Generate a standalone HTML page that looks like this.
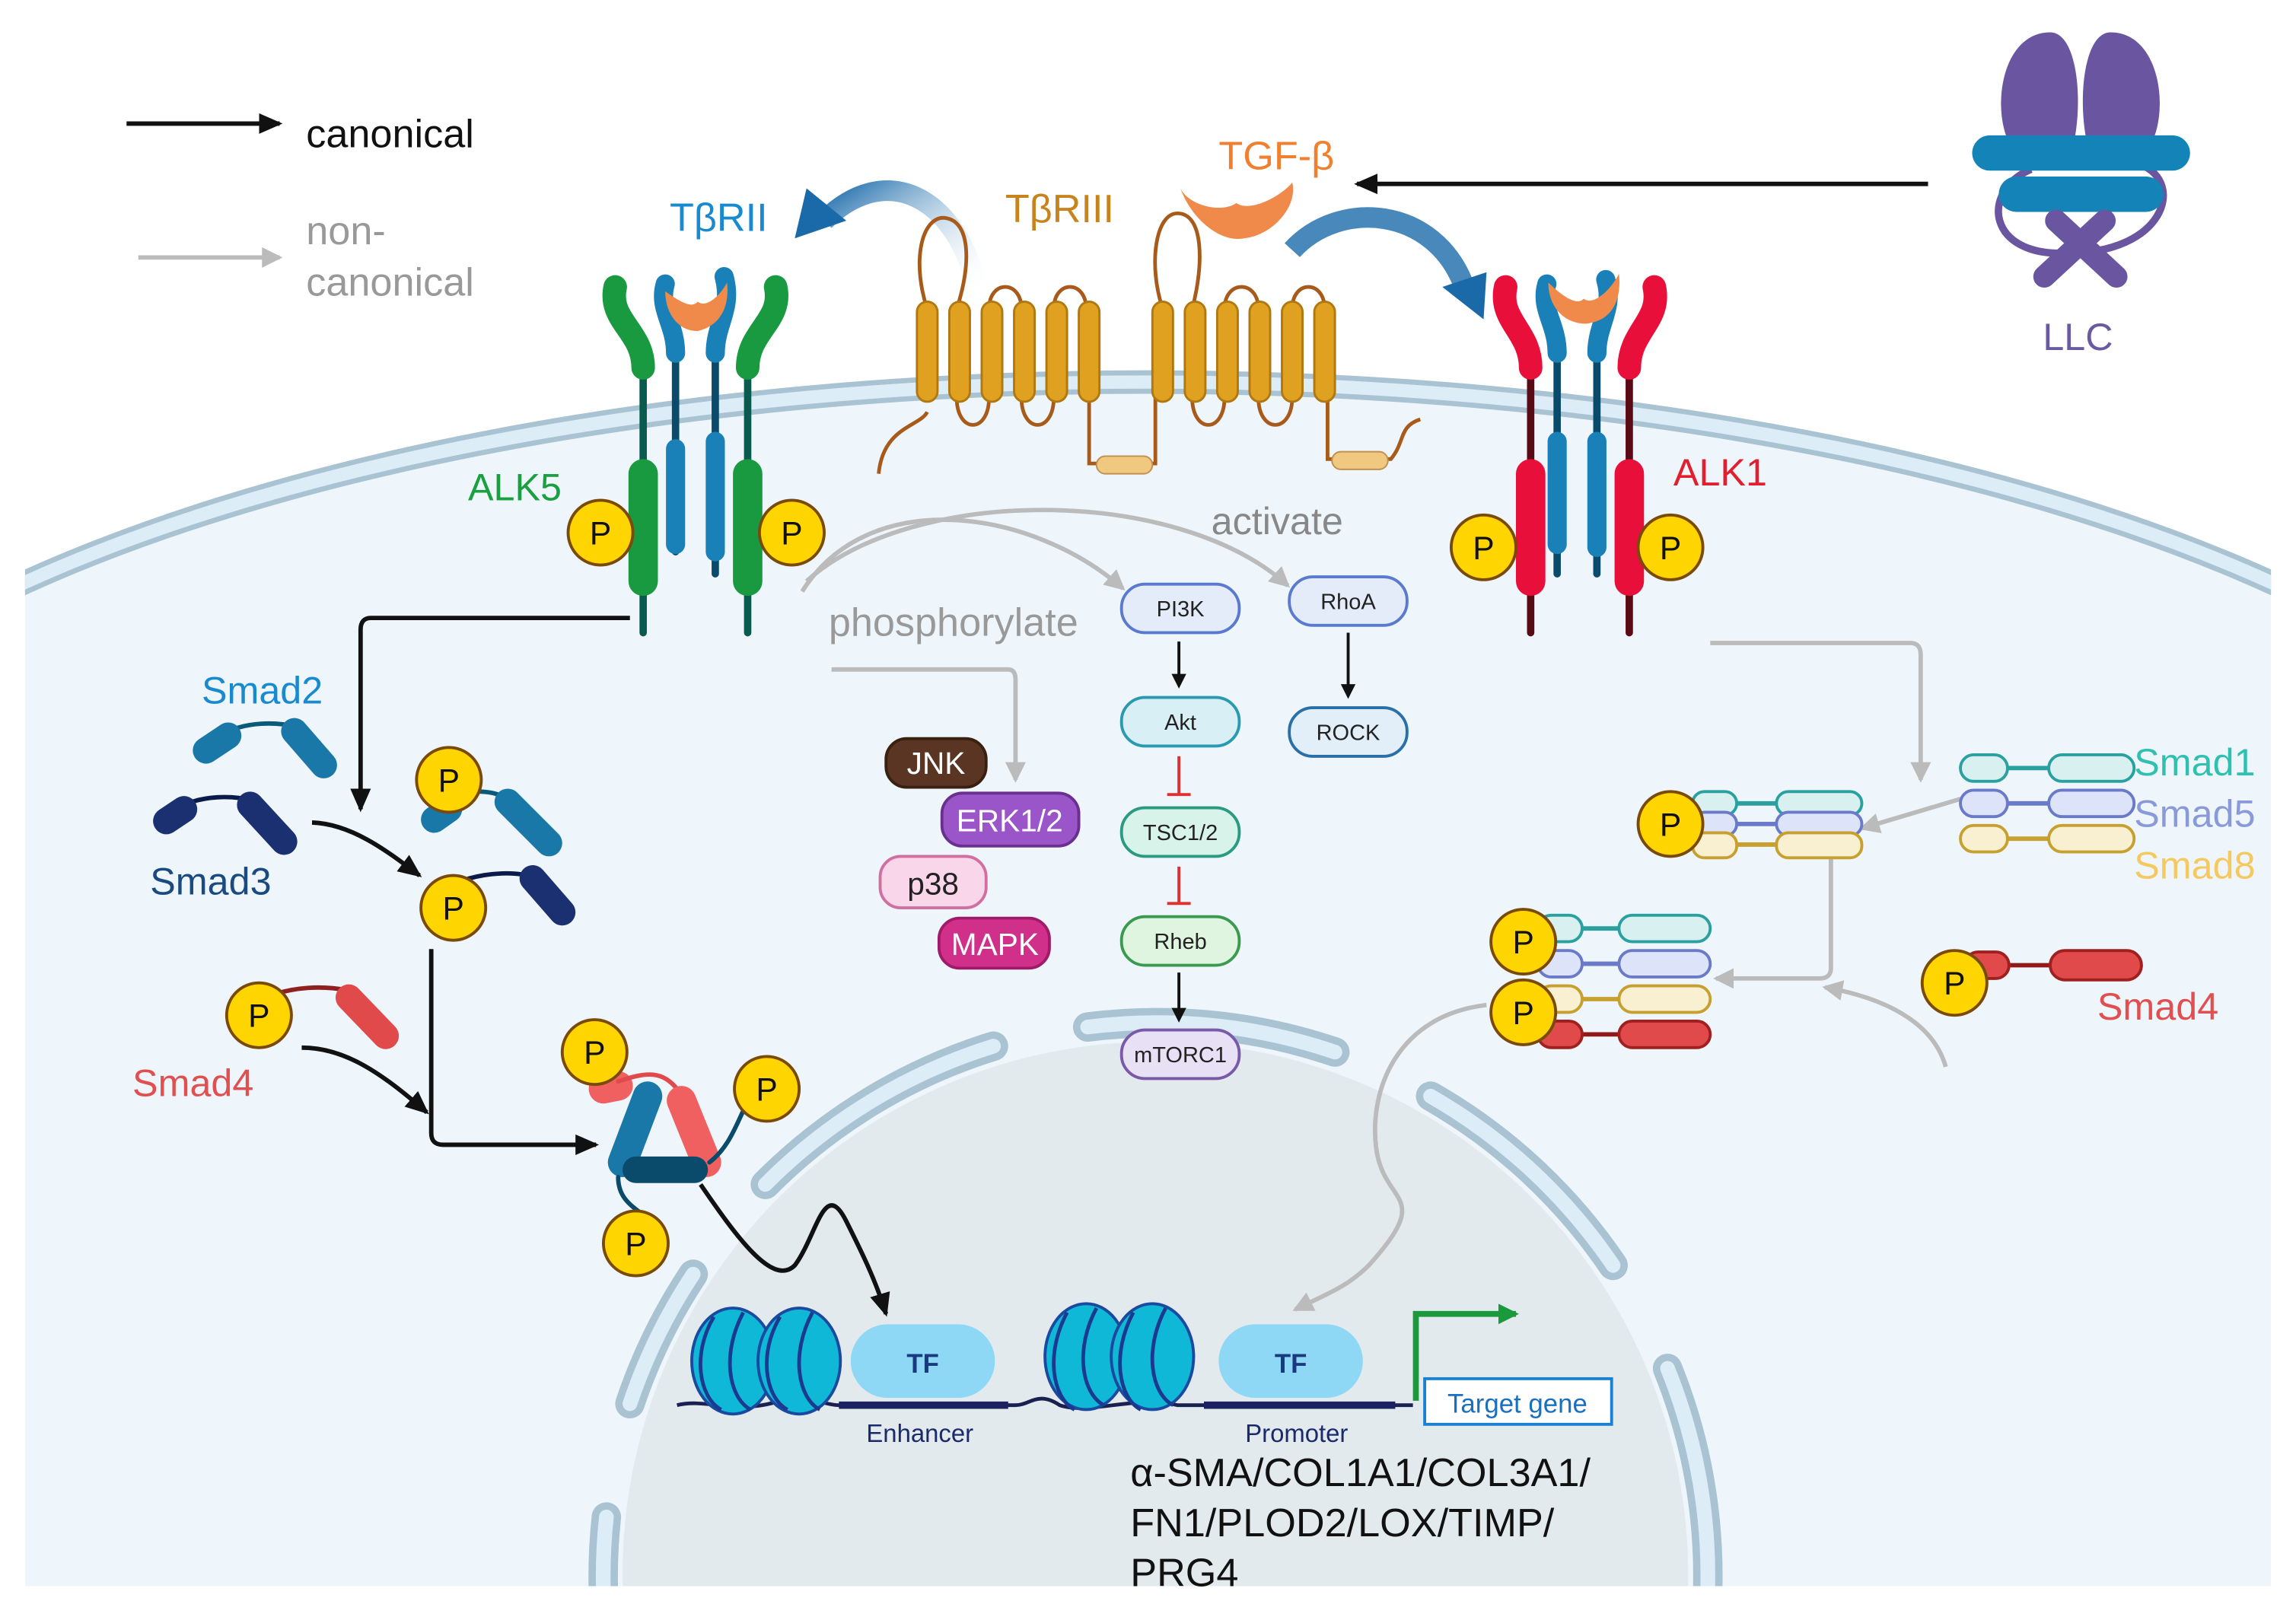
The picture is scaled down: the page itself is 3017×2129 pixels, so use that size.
<!DOCTYPE html>
<html><head><meta charset="utf-8"><style>
html,body{margin:0;padding:0;background:#fff;width:3017px;height:2129px;overflow:hidden}
svg{display:block}
text{font-family:"Liberation Sans",sans-serif}
</style></head><body>
<svg width="3017" height="2129" viewBox="0 0 1560 1101" preserveAspectRatio="none" xmlns="http://www.w3.org/2000/svg">
<defs>
<marker id="ab" markerWidth="10" markerHeight="10" refX="8" refY="5" orient="auto" markerUnits="userSpaceOnUse"><path d="M0,0 L10,5 L0,10 z" fill="#111"/></marker>
<marker id="ab2" markerWidth="16" markerHeight="14" refX="14" refY="7" orient="auto" markerUnits="userSpaceOnUse"><path d="M0,0 L16,7 L0,14 z" fill="#111"/></marker>
<marker id="ag" markerWidth="14" markerHeight="14" refX="12" refY="7" orient="auto" markerUnits="userSpaceOnUse"><path d="M0,0 L14,7 L0,14 z" fill="#bbb"/></marker>
<marker id="agg" markerWidth="14" markerHeight="14" refX="12" refY="7" orient="auto" markerUnits="userSpaceOnUse"><path d="M0,0 L14,7 L0,14 z" fill="#1a9a3a"/></marker>
<clipPath id="cell"><rect x="17" y="0" width="1526" height="1078"/></clipPath>
<linearGradient id="bg1" x1="1" y1="1" x2="0" y2="0"><stop offset="0" stop-color="#fff" stop-opacity="0"/><stop offset="1" stop-color="#1a6aaa"/></linearGradient>
</defs>
<rect width="1560" height="1101" fill="#fff"/>
<g clip-path="url(#cell)">
<path d="M10,399 A1000,385 0 0 1 1550,399 L1550,1078 L10,1078 z" fill="#eef6fb"/>
<path d="M10,399 A1000,385 0 0 1 1550,399" fill="none" stroke="#a9c3d3" stroke-width="16"/>
<path d="M10,399 A1000,385 0 0 1 1550,399" fill="none" stroke="#dcedf8" stroke-width="9"/>
<circle cx="785" cy="1070" r="362" fill="#e3eaee"/>
<g fill="none" stroke-linecap="round">
<g stroke="#a9c3d3" stroke-width="20">
<path d="M410,1083 A375,375 0 0 1 412,1031"/>
<path d="M428,954 A375,375 0 0 1 471,866"/>
<path d="M520,805 A375,375 0 0 1 675,711"/>
<path d="M739,698 A375,375 0 0 1 907,715"/>
<path d="M972,745 A375,375 0 0 1 1096,860"/>
<path d="M1133,930 A375,375 0 0 1 1159,1103"/>
</g>
<g stroke="#dcedf8" stroke-width="10">
<path d="M410,1083 A375,375 0 0 1 412,1031"/>
<path d="M428,954 A375,375 0 0 1 471,866"/>
<path d="M520,805 A375,375 0 0 1 675,711"/>
<path d="M739,698 A375,375 0 0 1 907,715"/>
<path d="M972,745 A375,375 0 0 1 1096,860"/>
<path d="M1133,930 A375,375 0 0 1 1159,1103"/>
</g>
</g>
</g>

<!-- legend -->
<line x1="86" y1="84" x2="190" y2="84" stroke="#111" stroke-width="3" marker-end="url(#ab2)"/>
<text x="208" y="100" font-size="27" fill="#111">canonical</text>
<line x1="94" y1="175" x2="190" y2="175" stroke="#bbb" stroke-width="3" marker-end="url(#ag)"/>
<text x="208" y="166" font-size="27" fill="#999">non-</text>
<text x="208" y="201" font-size="27" fill="#999">canonical</text>

<!-- LLC -->
<g>
<path d="M1393,22 C1358,22 1352,80 1368,102 C1383,120 1405,112 1410,92 C1415,62 1410,22 1393,22z" fill="#6a55a0"/>
<path d="M1434,22 C1469,22 1475,80 1459,102 C1444,120 1422,112 1417,92 C1412,62 1417,22 1434,22z" fill="#6a55a0"/>
<path d="M1380,115 C1345,130 1350,175 1405,172 C1470,172 1485,125 1455,112" fill="none" stroke="#6a55a0" stroke-width="5"/>
<rect x="1340" y="92" width="148" height="24" rx="12" fill="#1484b8"/>
<rect x="1358" y="120" width="112" height="24" rx="12" fill="#1484b8"/>
<path d="M1397,150 L1438,188 M1430,150 L1389,188" stroke="#6a55a0" stroke-width="15" stroke-linecap="round"/>
<text x="1388" y="238" font-size="26" fill="#6a5aa0">LLC</text>
</g>
<line x1="1310" y1="125" x2="922" y2="125" stroke="#111" stroke-width="3" marker-end="url(#ab2)"/>
<text x="828" y="115" font-size="27" fill="#f08030">TGF-β</text>
<path d="M802,128 C808,140 830,145 840,138 C850,145 872,132 878,124 C882,140 865,160 845,162 C830,165 810,150 802,128z" fill="#f08a4a"/>
<text x="683" y="151" font-size="27" fill="#c8841c">TβRIII</text>
<text x="455" y="157" font-size="27" fill="#1a8ad0">TβRII</text>

<!-- blue curved arrows -->
<path d="M665,200 C650,130 600,110 560,150" fill="none" stroke="url(#bg1)" stroke-width="14"/>
<path d="M540,162 L548,128 L575,150 z" fill="#1a6aaa"/>
<path d="M878,170 C910,135 975,140 995,195" fill="none" stroke="#1a6aaa" stroke-width="14" stroke-opacity="0.8"/>
<path d="M1008,217 L980,195 L1010,185 z" fill="#1a6aaa"/>

<!-- TβRIII -->
<g fill="none" stroke="#a85a1a" stroke-width="2.5">
<path d="M597,322 C600,290 625,290 630,280"/>
<path d="M630,210 C620,180 625,150 640,148 C660,148 660,180 650,210"/>
<path d="M650,270 C650,295 672,295 672,270 M672,210 C672,190 694,190 694,210 M694,270 C694,295 716,295 716,270 M716,210 C716,190 738,190 738,210"/>
<path d="M740,270 L740,315 L785,315 L785,270"/>
<path d="M790,210 C780,180 785,145 800,145 C818,145 818,180 810,210"/>
<path d="M810,270 C810,295 832,295 832,270 M832,210 C832,190 855,190 855,210 M855,270 C855,295 878,295 878,270 M878,210 C878,190 900,190 900,210"/>
<path d="M902,270 L902,312 L945,312 C955,300 950,290 965,285"/>
</g>
<g fill="#e0a020" stroke="#b07810" stroke-width="1.5">
<rect x="623" y="205" width="14" height="68" rx="7"/><rect x="645" y="205" width="14" height="68" rx="7"/><rect x="667" y="205" width="14" height="68" rx="7"/><rect x="689" y="205" width="14" height="68" rx="7"/><rect x="711" y="205" width="14" height="68" rx="7"/><rect x="733" y="205" width="14" height="68" rx="7"/>
<rect x="783" y="205" width="14" height="68" rx="7"/><rect x="805" y="205" width="14" height="68" rx="7"/><rect x="827" y="205" width="14" height="68" rx="7"/><rect x="849" y="205" width="14" height="68" rx="7"/><rect x="871" y="205" width="14" height="68" rx="7"/><rect x="893" y="205" width="14" height="68" rx="7"/>
</g>
<rect x="745" y="310" width="38" height="12" rx="6" fill="#f0c880" stroke="#c09050"/>
<rect x="905" y="307" width="38" height="12" rx="6" fill="#f0c880" stroke="#c09050"/>

<!-- ALK5 receptor -->
<g stroke-linecap="round" fill="none">
<path d="M437,430 L437,245" stroke="#0a5a50" stroke-width="5"/>
<path d="M437,250 C437,225 413,218 418,195" stroke="#1a9a40" stroke-width="16"/>
<path d="M508,430 L508,245" stroke="#0a5a50" stroke-width="5"/>
<path d="M508,250 C508,225 532,218 527,195" stroke="#1a9a40" stroke-width="16"/>
<path d="M459,375 L459,235" stroke="#0a4a6a" stroke-width="5"/>
<path d="M459,240 C459,220 447,210 452,193" stroke="#1a80b8" stroke-width="13"/>
<path d="M486,390 L486,235" stroke="#0a4a6a" stroke-width="5"/>
<path d="M486,240 C486,220 498,210 492,188" stroke="#1a80b8" stroke-width="13"/>
<line x1="459" y1="305" x2="459" y2="370" stroke="#1a80b8" stroke-width="13"/>
<line x1="486" y1="300" x2="486" y2="375" stroke="#1a80b8" stroke-width="13"/>
<line x1="437" y1="322" x2="437" y2="395" stroke="#1a9a40" stroke-width="20"/>
<line x1="508" y1="322" x2="508" y2="395" stroke="#1a9a40" stroke-width="20"/>
</g>
<path d="M452,198 C462,205 470,210 474,205 C480,210 490,200 494,192 C496,210 488,222 474,225 C460,225 452,212 452,198z" fill="#f08a4a"/>
<text x="318" y="340" font-size="26" fill="#1aa040">ALK5</text>

<!-- ALK1 receptor -->
<g stroke-linecap="round" fill="none">
<path d="M1040,430 L1040,245" stroke="#5a0a14" stroke-width="5"/>
<path d="M1040,250 C1040,225 1018,218 1023,195" stroke="#e8103a" stroke-width="16"/>
<path d="M1107,430 L1107,245" stroke="#5a0a14" stroke-width="5"/>
<path d="M1107,250 C1107,225 1129,218 1124,195" stroke="#e8103a" stroke-width="16"/>
<path d="M1058,390 L1058,235" stroke="#0a4a6a" stroke-width="5"/>
<path d="M1058,240 C1058,220 1046,210 1051,193" stroke="#1a80b8" stroke-width="13"/>
<path d="M1085,390 L1085,235" stroke="#0a4a6a" stroke-width="5"/>
<path d="M1085,240 C1085,220 1097,210 1091,190" stroke="#1a80b8" stroke-width="13"/>
<line x1="1058" y1="300" x2="1058" y2="370" stroke="#1a80b8" stroke-width="13"/>
<line x1="1085" y1="300" x2="1085" y2="372" stroke="#1a80b8" stroke-width="13"/>
<line x1="1040" y1="322" x2="1040" y2="395" stroke="#e8103a" stroke-width="20"/>
<line x1="1107" y1="322" x2="1107" y2="395" stroke="#e8103a" stroke-width="20"/>
</g>
<path d="M1052,192 C1062,202 1072,208 1076,203 C1082,208 1094,198 1100,186 C1102,206 1094,218 1078,220 C1062,220 1052,208 1052,192z" fill="#f08a4a"/>
<text x="1137" y="330" font-size="26" fill="#e02030">ALK1</text>

<!-- P circles -->
<g fill="#ffd500" stroke="#7a4a08" stroke-width="2">
<circle cx="408" cy="362" r="22"/><circle cx="538" cy="362" r="22"/>
<circle cx="1008" cy="372" r="22"/><circle cx="1135" cy="372" r="22"/>
</g>
<g font-size="22" fill="#111" text-anchor="middle">
<text x="408" y="370">P</text><text x="538" y="370">P</text><text x="1008" y="380">P</text><text x="1135" y="380">P</text>
</g>

<!-- non-canonical labels and arrows -->
<text x="563" y="432" font-size="27" fill="#999">phosphorylate</text>
<text x="823" y="363" font-size="26" fill="#888">activate</text>
<g fill="none" stroke="#bbb" stroke-width="3">
<path d="M545,402 C590,330 700,345 763,400" marker-end="url(#ag)"/>
<path d="M548,395 C620,330 800,330 875,398" marker-end="url(#ag)"/>
<path d="M565,455 L685,455 Q690,455 690,462 L690,530" marker-end="url(#ag)"/>
<path d="M1162,437 L1298,437 Q1305,437 1305,445 L1305,530" marker-end="url(#ag)"/>
<path d="M1332,543 L1265,563" marker-end="url(#ag)"/>
<path d="M1244,582 L1244,658 Q1244,665 1236,665 L1166,665" marker-end="url(#ag)"/>
<path d="M1322,725 C1315,700 1290,680 1240,671" marker-end="url(#ag)"/>
<path d="M1010,683 C950,690 930,740 935,780 C940,820 975,810 930,860 C915,875 900,880 880,890" marker-end="url(#ag)"/>
</g>

<!-- pathway boxes -->
<g font-size="15" text-anchor="middle" fill="#222" stroke-width="2">
<rect x="762" y="397" width="80" height="33" rx="16" fill="#e4ecfa" stroke="#5a7ad0"/><text x="802" y="419">PI3K</text>
<rect x="876" y="392" width="80" height="33" rx="16" fill="#e4ecfa" stroke="#5a7ad0"/><text x="916" y="414">RhoA</text>
<rect x="762" y="474" width="80" height="33" rx="16" fill="#d8f0f5" stroke="#2a9ab0"/><text x="802" y="496">Akt</text>
<rect x="876" y="481" width="80" height="33" rx="16" fill="#e2eef8" stroke="#2a70a8"/><text x="916" y="503">ROCK</text>
<rect x="762" y="549" width="80" height="33" rx="16" fill="#d8f3ea" stroke="#2a9a80"/><text x="802" y="571">TSC1/2</text>
<rect x="762" y="623" width="80" height="33" rx="16" fill="#e0f5e0" stroke="#3a9a50"/><text x="802" y="645">Rheb</text>
<rect x="762" y="700" width="80" height="33" rx="16" fill="#e8e0f5" stroke="#7a5aa8"/><text x="802" y="722">mTORC1</text>
</g>
<g stroke="#111" stroke-width="2">
<line x1="801" y1="436" x2="801" y2="466" marker-end="url(#ab)"/>
<line x1="916" y1="430" x2="916" y2="473" marker-end="url(#ab)"/>
<line x1="801" y1="661" x2="801" y2="693" marker-end="url(#ab)"/>
</g>
<g stroke="#e03030" stroke-width="2">
<line x1="801" y1="514" x2="801" y2="540"/><line x1="793" y1="540" x2="809" y2="540"/>
<line x1="801" y1="589" x2="801" y2="614"/><line x1="793" y1="614" x2="809" y2="614"/>
</g>
<g font-size="21" text-anchor="middle" stroke-width="2">
<rect x="602" y="502" width="68" height="33" rx="14" fill="#5a3524" stroke="#3a2010"/><text x="636" y="526" fill="#fff">JNK</text>
<rect x="640" y="539" width="93" height="36" rx="14" fill="#9a55c8" stroke="#6a3090"/><text x="686" y="565" fill="#fff">ERK1/2</text>
<rect x="598" y="582" width="72" height="35" rx="14" fill="#fad6ea" stroke="#d070a0"/><text x="634" y="608" fill="#222">p38</text>
<rect x="638" y="624" width="75" height="34" rx="14" fill="#d0308a" stroke="#a01a6a"/><text x="676" y="649" fill="#fff">MAPK</text>
</g>

<!-- canonical arrows -->
<g fill="none" stroke="#111" stroke-width="3">
<path d="M428,420 L252,420 Q245,420 245,428 L245,550" marker-end="url(#ab2)"/>
<path d="M212,559 C240,560 265,580 285,595" marker-end="url(#ab2)"/>
<path d="M293,645 L293,770 Q293,778 301,778 L405,778" marker-end="url(#ab2)"/>
<path d="M205,712 C235,712 260,730 290,756" marker-end="url(#ab2)"/>
<path d="M476,805 C500,840 525,875 540,860 C555,840 560,800 575,830 C585,850 595,870 602,893" marker-end="url(#ab2)"/>
</g>

<!-- left smads -->
<g stroke-linecap="round" fill="none">
<path d="M150,500 C165,490 190,490 205,495" stroke="#0a5a7a" stroke-width="3"/>
<line x1="140" y1="510" x2="155" y2="500" stroke="#1a78a8" stroke-width="18"/>
<line x1="200" y1="497" x2="220" y2="520" stroke="#1a78a8" stroke-width="18"/>
<text x="137" y="478" font-size="26" fill="#1a8ad0" stroke="none">Smad2</text>
<path d="M120,550 C135,540 160,540 175,545" stroke="#0a1a4a" stroke-width="3"/>
<line x1="113" y1="558" x2="125" y2="550" stroke="#1a3070" stroke-width="18"/>
<line x1="170" y1="547" x2="193" y2="572" stroke="#1a3070" stroke-width="18"/>
<text x="102" y="608" font-size="26" fill="#1a4a80" stroke="none">Smad3</text>
<path d="M300,540 C320,538 335,535 348,545" stroke="#0a5a7a" stroke-width="3"/>
<line x1="295" y1="557" x2="305" y2="550" stroke="#1a78a8" stroke-width="18"/>
<line x1="345" y1="545" x2="373" y2="573" stroke="#1a78a8" stroke-width="18"/>
<path d="M310,600 C330,592 355,592 363,597" stroke="#0a1a4a" stroke-width="3"/>
<line x1="362" y1="597" x2="382" y2="620" stroke="#1a3070" stroke-width="18"/>
<path d="M180,678 C200,670 220,670 236,673" stroke="#902020" stroke-width="3"/>
<line x1="237" y1="678" x2="262" y2="704" stroke="#e04a4a" stroke-width="18"/>
<text x="90" y="745" font-size="26" fill="#e05050" stroke="none">Smad4</text>
<line x1="410" y1="740" x2="420" y2="738" stroke="#f06060" stroke-width="20"/>
<path d="M420,735 C440,728 450,728 460,740" stroke="#e04a4a" stroke-width="3"/>
<line x1="463" y1="748" x2="480" y2="790" stroke="#f06060" stroke-width="20"/>
<line x1="440" y1="745" x2="423" y2="790" stroke="#1a78a8" stroke-width="20"/>
<line x1="432" y1="795" x2="472" y2="795" stroke="#0a4a6a" stroke-width="18"/>
<path d="M482,790 C495,780 500,765 505,755" stroke="#0a4a6a" stroke-width="3"/>
<path d="M420,800 C420,815 430,820 440,828" stroke="#0a4a6a" stroke-width="3"/>
</g>
<g fill="#ffd500" stroke="#7a4a08" stroke-width="2">
<circle cx="305" cy="530" r="22"/><circle cx="308" cy="617" r="22"/><circle cx="176" cy="690" r="22"/>
<circle cx="404" cy="715" r="22"/><circle cx="521" cy="740" r="22"/><circle cx="432" cy="845" r="22"/>
</g>
<g font-size="22" fill="#111" text-anchor="middle">
<text x="305" y="538">P</text><text x="308" y="625">P</text><text x="176" y="698">P</text><text x="404" y="723">P</text><text x="521" y="748">P</text><text x="432" y="853">P</text>
</g>

<!-- right smads -->
<g stroke-width="2">
<g><line x1="1362" y1="522" x2="1395" y2="522" stroke="#2aa0a0" stroke-width="3"/><rect x="1332" y="513" width="32" height="18" rx="9" fill="#d8f0f0" stroke="#2aa0a0"/><rect x="1392" y="513" width="58" height="18" rx="9" fill="#d8f0f0" stroke="#2aa0a0"/></g>
<g><line x1="1362" y1="546" x2="1395" y2="546" stroke="#6a7ac8" stroke-width="3"/><rect x="1332" y="537" width="32" height="18" rx="9" fill="#dde3f8" stroke="#6a7ac8"/><rect x="1392" y="537" width="58" height="18" rx="9" fill="#dde3f8" stroke="#6a7ac8"/></g>
<g><line x1="1362" y1="570" x2="1395" y2="570" stroke="#c8a030" stroke-width="3"/><rect x="1332" y="561" width="32" height="18" rx="9" fill="#f8f0d0" stroke="#c8a030"/><rect x="1392" y="561" width="58" height="18" rx="9" fill="#f8f0d0" stroke="#c8a030"/></g>
<g><line x1="1175" y1="546" x2="1210" y2="546" stroke="#2aa0a0" stroke-width="3"/><rect x="1150" y="538" width="30" height="16" rx="8" fill="#d8f0f0" stroke="#2aa0a0"/><rect x="1207" y="538" width="58" height="16" rx="8" fill="#d8f0f0" stroke="#2aa0a0"/></g>
<g><line x1="1175" y1="560" x2="1210" y2="560" stroke="#6a7ac8" stroke-width="3"/><rect x="1150" y="552" width="30" height="16" rx="8" fill="#dde3f8" stroke="#6a7ac8"/><rect x="1207" y="552" width="58" height="16" rx="8" fill="#dde3f8" stroke="#6a7ac8"/></g>
<g><line x1="1175" y1="574" x2="1210" y2="574" stroke="#c8a030" stroke-width="3"/><rect x="1150" y="566" width="30" height="17" rx="8" fill="#f8f0d0" stroke="#c8a030"/><rect x="1207" y="566" width="58" height="17" rx="8" fill="#f8f0d0" stroke="#c8a030"/></g>
<g><line x1="1070" y1="631" x2="1102" y2="631" stroke="#2aa0a0" stroke-width="3"/><rect x="1045" y="622" width="30" height="18" rx="9" fill="#d8f0f0" stroke="#2aa0a0"/><rect x="1100" y="622" width="62" height="18" rx="9" fill="#d8f0f0" stroke="#2aa0a0"/></g>
<g><line x1="1070" y1="655" x2="1102" y2="655" stroke="#6a7ac8" stroke-width="3"/><rect x="1045" y="646" width="30" height="18" rx="9" fill="#dde3f8" stroke="#6a7ac8"/><rect x="1100" y="646" width="62" height="18" rx="9" fill="#dde3f8" stroke="#6a7ac8"/></g>
<g><line x1="1070" y1="679" x2="1102" y2="679" stroke="#c8a030" stroke-width="3"/><rect x="1045" y="670" width="30" height="18" rx="9" fill="#f8f0d0" stroke="#c8a030"/><rect x="1100" y="670" width="62" height="18" rx="9" fill="#f8f0d0" stroke="#c8a030"/></g>
<g><line x1="1070" y1="703" x2="1102" y2="703" stroke="#901a1a" stroke-width="3"/><rect x="1045" y="694" width="30" height="18" rx="9" fill="#e04a4a" stroke="#a02020"/><rect x="1100" y="694" width="62" height="18" rx="9" fill="#e04a4a" stroke="#a02020"/></g>
<g><line x1="1360" y1="656" x2="1395" y2="656" stroke="#901a1a" stroke-width="3"/><rect x="1335" y="647" width="30" height="18" rx="9" fill="#e04a4a" stroke="#a02020"/><rect x="1393" y="646" width="62" height="20" rx="10" fill="#e04a4a" stroke="#a02020"/></g>
</g>
<g fill="#ffd500" stroke="#7a4a08" stroke-width="2">
<circle cx="1135" cy="560" r="22"/><circle cx="1035" cy="640" r="22"/><circle cx="1035" cy="688" r="22"/><circle cx="1328" cy="668" r="22"/>
</g>
<g font-size="22" fill="#111" text-anchor="middle">
<text x="1135" y="568">P</text><text x="1035" y="648">P</text><text x="1035" y="696">P</text><text x="1328" y="676">P</text>
</g>
<text x="1450" y="527" font-size="26" fill="#30c0b0">Smad1</text>
<text x="1450" y="562" font-size="26" fill="#8a9ad8">Smad5</text>
<text x="1450" y="597" font-size="26" fill="#f5c860">Smad8</text>
<text x="1425" y="693" font-size="26" fill="#e05050">Smad4</text>

<!-- DNA -->
<path d="M460,955 C480,950 500,962 530,952 C550,948 560,955 570,955 L690,955 C700,955 705,945 720,955 C740,962 770,948 800,955 L960,955" fill="none" stroke="#1a2050" stroke-width="2.5"/>
<line x1="570" y1="955" x2="685" y2="955" stroke="#1a2060" stroke-width="5"/>
<line x1="818" y1="955" x2="948" y2="955" stroke="#1a2060" stroke-width="5"/>
<g fill="#10b8d8" stroke="#1a4aa0" stroke-width="2">
<ellipse cx="498" cy="925" rx="28" ry="36"/><ellipse cx="543" cy="925" rx="28" ry="36"/>
<ellipse cx="738" cy="922" rx="28" ry="36"/><ellipse cx="783" cy="922" rx="28" ry="36"/>
</g>
<g fill="none" stroke="#1a3a90" stroke-width="2.5">
<path d="M485,895 C470,920 475,950 490,958 M505,892 C490,920 495,950 510,958 M530,895 C515,920 520,950 535,958 M552,892 C537,920 542,950 557,958"/>
<path d="M725,892 C710,920 715,950 730,958 M745,889 C730,917 735,947 750,955 M770,892 C755,920 760,950 775,958 M792,889 C777,917 782,947 797,955"/>
</g>
<rect x="578" y="900" width="98" height="50" rx="25" fill="#8fd8f5"/>
<rect x="828" y="900" width="98" height="50" rx="25" fill="#8fd8f5"/>
<text x="627" y="933" font-size="18" font-weight="bold" fill="#1a3a80" text-anchor="middle">TF</text>
<text x="877" y="933" font-size="18" font-weight="bold" fill="#1a3a80" text-anchor="middle">TF</text>
<text x="625" y="980" font-size="17" fill="#1a2a6a" text-anchor="middle">Enhancer</text>
<text x="881" y="980" font-size="17" fill="#1a2a6a" text-anchor="middle">Promoter</text>
<path d="M962,952 L962,893 L1030,893" fill="none" stroke="#1a9a3a" stroke-width="4" marker-end="url(#agg)"/>
<rect x="968" y="937" width="127" height="31" fill="#fff" stroke="#1a80d0" stroke-width="2"/>
<text x="1031" y="960" font-size="18" fill="#1a70c0" text-anchor="middle">Target gene</text>
<g font-size="27" fill="#111">
<text x="768" y="1010">α-SMA/COL1A1/COL3A1/</text>
<text x="768" y="1044">FN1/PLOD2/LOX/TIMP/</text>
<text x="768" y="1078">PRG4</text>
</g>
</svg>
</body></html>
